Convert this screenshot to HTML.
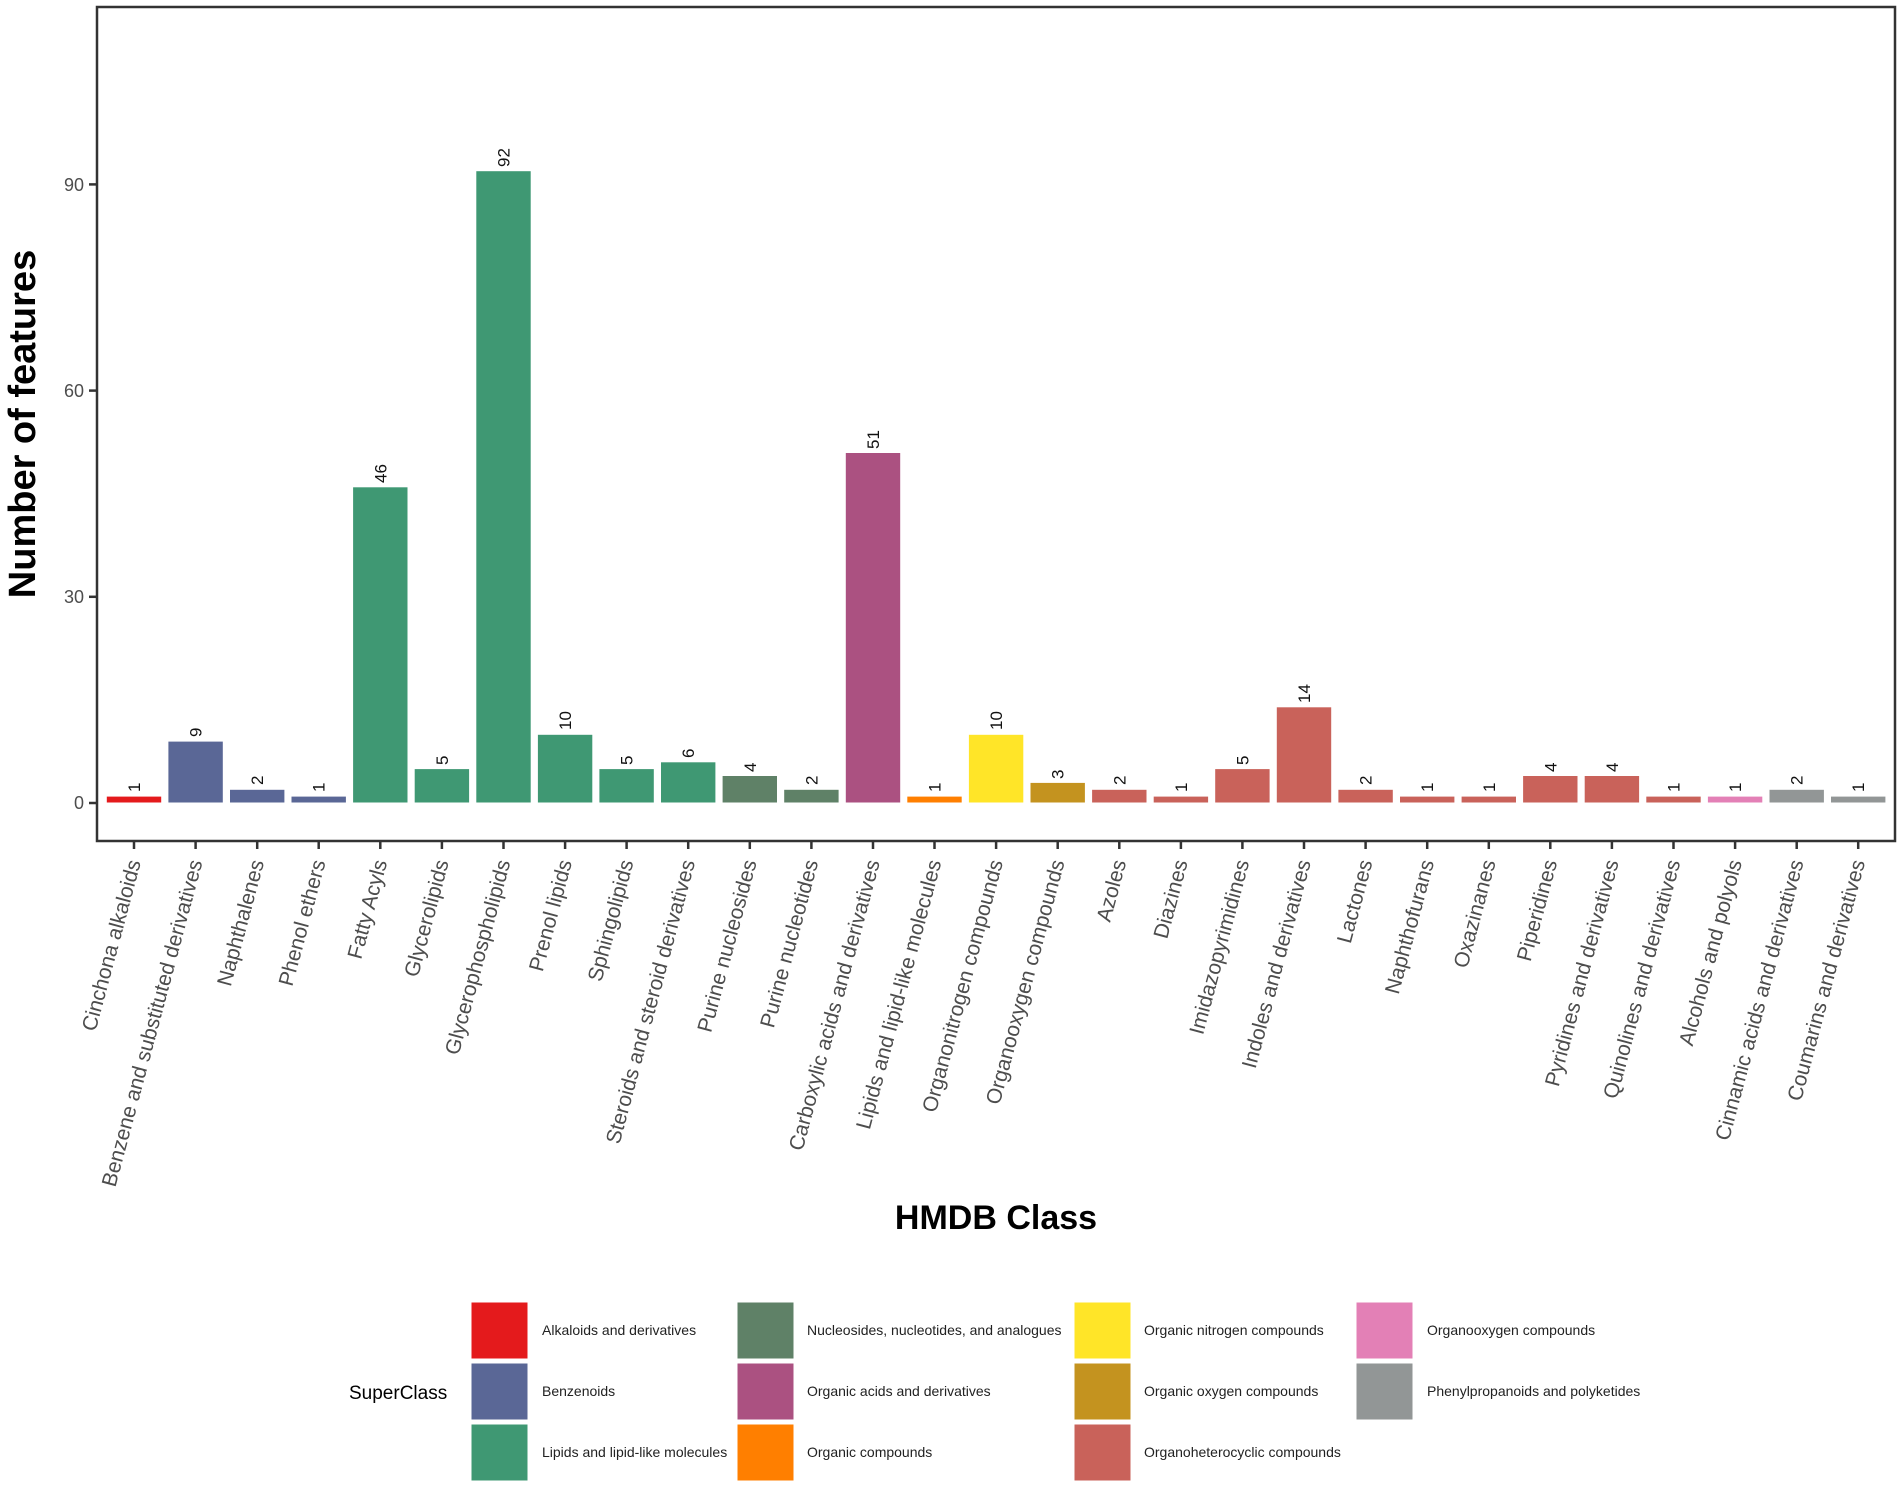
<!DOCTYPE html>
<html><head><meta charset="utf-8"><style>html,body{margin:0;padding:0;background:#fff}svg{display:block}</style></head>
<body>
<svg width="1902" height="1488" viewBox="0 0 1902 1488" xmlns="http://www.w3.org/2000/svg" font-family="Liberation Sans, sans-serif">
<rect width="1902" height="1488" fill="#fff"/>
<g stroke="#fff" stroke-width="1">
<rect x="106.3" y="796.1" width="55.4" height="6.9" fill="#E41A1C"/>
<rect x="167.9" y="741.1" width="55.4" height="61.9" fill="#5A6796"/>
<rect x="229.5" y="789.3" width="55.4" height="13.7" fill="#5A6796"/>
<rect x="291.0" y="796.1" width="55.4" height="6.9" fill="#5A6796"/>
<rect x="352.6" y="486.8" width="55.4" height="316.2" fill="#3F9873"/>
<rect x="414.2" y="768.6" width="55.4" height="34.4" fill="#3F9873"/>
<rect x="475.8" y="170.7" width="55.4" height="632.3" fill="#3F9873"/>
<rect x="537.4" y="734.3" width="55.4" height="68.7" fill="#3F9873"/>
<rect x="598.9" y="768.6" width="55.4" height="34.4" fill="#3F9873"/>
<rect x="660.5" y="761.8" width="55.4" height="41.2" fill="#3F9873"/>
<rect x="722.1" y="775.5" width="55.4" height="27.5" fill="#5F8167"/>
<rect x="783.7" y="789.3" width="55.4" height="13.7" fill="#5F8167"/>
<rect x="845.3" y="452.5" width="55.4" height="350.5" fill="#AB5181"/>
<rect x="906.8" y="796.1" width="55.4" height="6.9" fill="#FF7F00"/>
<rect x="968.4" y="734.3" width="55.4" height="68.7" fill="#FFE528"/>
<rect x="1030.0" y="782.4" width="55.4" height="20.6" fill="#C4931F"/>
<rect x="1091.6" y="789.3" width="55.4" height="13.7" fill="#C9625A"/>
<rect x="1153.2" y="796.1" width="55.4" height="6.9" fill="#C9625A"/>
<rect x="1214.7" y="768.6" width="55.4" height="34.4" fill="#C9625A"/>
<rect x="1276.3" y="706.8" width="55.4" height="96.2" fill="#C9625A"/>
<rect x="1337.9" y="789.3" width="55.4" height="13.7" fill="#C9625A"/>
<rect x="1399.5" y="796.1" width="55.4" height="6.9" fill="#C9625A"/>
<rect x="1461.1" y="796.1" width="55.4" height="6.9" fill="#C9625A"/>
<rect x="1522.6" y="775.5" width="55.4" height="27.5" fill="#C9625A"/>
<rect x="1584.2" y="775.5" width="55.4" height="27.5" fill="#C9625A"/>
<rect x="1645.8" y="796.1" width="55.4" height="6.9" fill="#C9625A"/>
<rect x="1707.4" y="796.1" width="55.4" height="6.9" fill="#E380B6"/>
<rect x="1769.0" y="789.3" width="55.4" height="13.7" fill="#929696"/>
<rect x="1830.5" y="796.1" width="55.4" height="6.9" fill="#929696"/>
</g>
<g font-size="17" fill="#111" text-anchor="start">
<text transform="translate(140,792) rotate(-90)">1</text>
<text transform="translate(201.6,737) rotate(-90)">9</text>
<text transform="translate(263.2,785) rotate(-90)">2</text>
<text transform="translate(324.7,792) rotate(-90)">1</text>
<text transform="translate(386.3,483) rotate(-90)">46</text>
<text transform="translate(447.9,765) rotate(-90)">5</text>
<text transform="translate(509.5,167) rotate(-90)">92</text>
<text transform="translate(571.1,730) rotate(-90)">10</text>
<text transform="translate(632.6,765) rotate(-90)">5</text>
<text transform="translate(694.2,758) rotate(-90)">6</text>
<text transform="translate(755.8,772) rotate(-90)">4</text>
<text transform="translate(817.4,785) rotate(-90)">2</text>
<text transform="translate(879,449) rotate(-90)">51</text>
<text transform="translate(940.5,792) rotate(-90)">1</text>
<text transform="translate(1002.1,730) rotate(-90)">10</text>
<text transform="translate(1063.7,779) rotate(-90)">3</text>
<text transform="translate(1125.3,785) rotate(-90)">2</text>
<text transform="translate(1186.9,792) rotate(-90)">1</text>
<text transform="translate(1248.4,765) rotate(-90)">5</text>
<text transform="translate(1310,703) rotate(-90)">14</text>
<text transform="translate(1371.6,785) rotate(-90)">2</text>
<text transform="translate(1433.2,792) rotate(-90)">1</text>
<text transform="translate(1494.8,792) rotate(-90)">1</text>
<text transform="translate(1556.3,772) rotate(-90)">4</text>
<text transform="translate(1617.9,772) rotate(-90)">4</text>
<text transform="translate(1679.5,792) rotate(-90)">1</text>
<text transform="translate(1741.1,792) rotate(-90)">1</text>
<text transform="translate(1802.7,785) rotate(-90)">2</text>
<text transform="translate(1864.2,792) rotate(-90)">1</text>
</g>
<rect x="97" y="7" width="1798" height="834" fill="none" stroke="#333" stroke-width="2.5"/>
<g stroke="#333" stroke-width="2.5">
<line x1="89" x2="97" y1="803" y2="803"/><line x1="89" x2="97" y1="596.8" y2="596.8"/>
<line x1="89" x2="97" y1="390.6" y2="390.6"/><line x1="89" x2="97" y1="184.4" y2="184.4"/>
</g>
<g font-size="18" fill="#4d4d4d" text-anchor="end">
<text x="84" y="809">0</text><text x="84" y="603">30</text><text x="84" y="397">60</text><text x="84" y="191">90</text>
</g>
<g stroke="#333" stroke-width="2.5">
<line x1="134" x2="134" y1="841" y2="849"/><line x1="195.6" x2="195.6" y1="841" y2="849"/><line x1="257.2" x2="257.2" y1="841" y2="849"/><line x1="318.7" x2="318.7" y1="841" y2="849"/><line x1="380.3" x2="380.3" y1="841" y2="849"/><line x1="441.9" x2="441.9" y1="841" y2="849"/><line x1="503.5" x2="503.5" y1="841" y2="849"/><line x1="565.1" x2="565.1" y1="841" y2="849"/><line x1="626.6" x2="626.6" y1="841" y2="849"/><line x1="688.2" x2="688.2" y1="841" y2="849"/><line x1="749.8" x2="749.8" y1="841" y2="849"/><line x1="811.4" x2="811.4" y1="841" y2="849"/><line x1="873" x2="873" y1="841" y2="849"/><line x1="934.5" x2="934.5" y1="841" y2="849"/><line x1="996.1" x2="996.1" y1="841" y2="849"/><line x1="1057.7" x2="1057.7" y1="841" y2="849"/><line x1="1119.3" x2="1119.3" y1="841" y2="849"/><line x1="1180.9" x2="1180.9" y1="841" y2="849"/><line x1="1242.4" x2="1242.4" y1="841" y2="849"/><line x1="1304" x2="1304" y1="841" y2="849"/><line x1="1365.6" x2="1365.6" y1="841" y2="849"/><line x1="1427.2" x2="1427.2" y1="841" y2="849"/><line x1="1488.8" x2="1488.8" y1="841" y2="849"/><line x1="1550.3" x2="1550.3" y1="841" y2="849"/><line x1="1611.9" x2="1611.9" y1="841" y2="849"/><line x1="1673.5" x2="1673.5" y1="841" y2="849"/><line x1="1735.1" x2="1735.1" y1="841" y2="849"/><line x1="1796.7" x2="1796.7" y1="841" y2="849"/><line x1="1858.2" x2="1858.2" y1="841" y2="849"/>
</g>
<g font-size="21" fill="#4d4d4d" text-anchor="end">
<text transform="translate(141,862) rotate(-75)">Cinchona alkaloids</text>
<text transform="translate(202.6,862) rotate(-75)">Benzene and substituted derivatives</text>
<text transform="translate(264.2,862) rotate(-75)">Naphthalenes</text>
<text transform="translate(325.7,862) rotate(-75)">Phenol ethers</text>
<text transform="translate(387.3,862) rotate(-75)">Fatty Acyls</text>
<text transform="translate(448.9,862) rotate(-75)">Glycerolipids</text>
<text transform="translate(510.5,862) rotate(-75)">Glycerophospholipids</text>
<text transform="translate(572.1,862) rotate(-75)">Prenol lipids</text>
<text transform="translate(633.6,862) rotate(-75)">Sphingolipids</text>
<text transform="translate(695.2,862) rotate(-75)">Steroids and steroid derivatives</text>
<text transform="translate(756.8,862) rotate(-75)">Purine nucleosides</text>
<text transform="translate(818.4,862) rotate(-75)">Purine nucleotides</text>
<text transform="translate(880,862) rotate(-75)">Carboxylic acids and derivatives</text>
<text transform="translate(941.5,862) rotate(-75)">Lipids and lipid-like molecules</text>
<text transform="translate(1003.1,862) rotate(-75)">Organonitrogen compounds</text>
<text transform="translate(1064.7,862) rotate(-75)">Organooxygen compounds</text>
<text transform="translate(1126.3,862) rotate(-75)">Azoles</text>
<text transform="translate(1187.9,862) rotate(-75)">Diazines</text>
<text transform="translate(1249.4,862) rotate(-75)">Imidazopyrimidines</text>
<text transform="translate(1311,862) rotate(-75)">Indoles and derivatives</text>
<text transform="translate(1372.6,862) rotate(-75)">Lactones</text>
<text transform="translate(1434.2,862) rotate(-75)">Naphthofurans</text>
<text transform="translate(1495.8,862) rotate(-75)">Oxazinanes</text>
<text transform="translate(1557.3,862) rotate(-75)">Piperidines</text>
<text transform="translate(1618.9,862) rotate(-75)">Pyridines and derivatives</text>
<text transform="translate(1680.5,862) rotate(-75)">Quinolines and derivatives</text>
<text transform="translate(1742.1,862) rotate(-75)">Alcohols and polyols</text>
<text transform="translate(1803.7,862) rotate(-75)">Cinnamic acids and derivatives</text>
<text transform="translate(1865.2,862) rotate(-75)">Coumarins and derivatives</text>
</g>
<text transform="translate(35,424) rotate(-90)" font-size="38" font-weight="bold" text-anchor="middle" fill="#000">Number of features</text>
<text x="996" y="1229" font-size="34" font-weight="bold" text-anchor="middle" fill="#000">HMDB Class</text>
<text x="349" y="1399" font-size="19" fill="#000">SuperClass</text>
<g stroke="#fff" stroke-width="1">
<rect x="471" y="1302" width="57" height="57" fill="#E41A1C"/>
<rect x="471" y="1363" width="57" height="57" fill="#5A6796"/>
<rect x="471" y="1424" width="57" height="57" fill="#3F9873"/>
<rect x="737" y="1302" width="57" height="57" fill="#5F8167"/>
<rect x="737" y="1363" width="57" height="57" fill="#AB5181"/>
<rect x="737" y="1424" width="57" height="57" fill="#FF7F00"/>
<rect x="1074" y="1302" width="57" height="57" fill="#FFE528"/>
<rect x="1074" y="1363" width="57" height="57" fill="#C4931F"/>
<rect x="1074" y="1424" width="57" height="57" fill="#C9625A"/>
<rect x="1356" y="1302" width="57" height="57" fill="#E380B6"/>
<rect x="1356" y="1363" width="57" height="57" fill="#929696"/>
</g>
<g font-size="14" fill="#222">
<text x="542" y="1335">Alkaloids and derivatives</text>
<text x="542" y="1396">Benzenoids</text>
<text x="542" y="1457">Lipids and lipid-like molecules</text>
<text x="807" y="1335">Nucleosides, nucleotides, and analogues</text>
<text x="807" y="1396">Organic acids and derivatives</text>
<text x="807" y="1457">Organic compounds</text>
<text x="1144" y="1335">Organic nitrogen compounds</text>
<text x="1144" y="1396">Organic oxygen compounds</text>
<text x="1144" y="1457">Organoheterocyclic compounds</text>
<text x="1427" y="1335">Organooxygen compounds</text>
<text x="1427" y="1396">Phenylpropanoids and polyketides</text>
</g>
</svg>
</body></html>
